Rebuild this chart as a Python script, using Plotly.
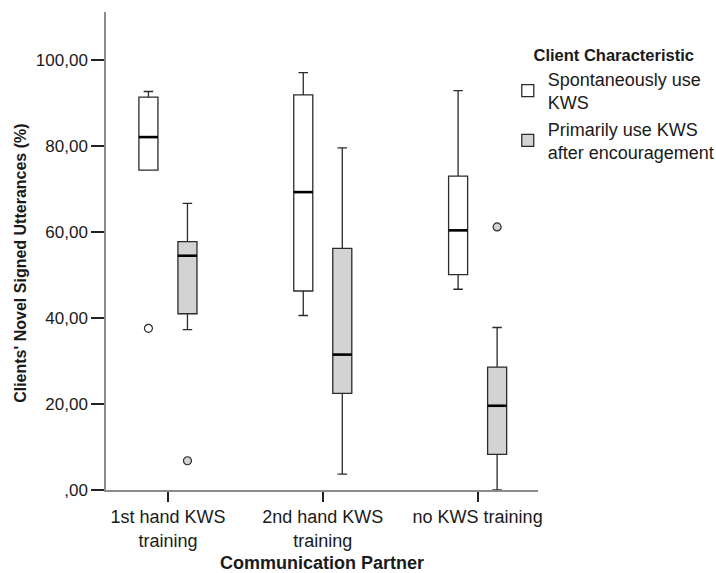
import plotly.graph_objects as go

categories = ["1st hand KWS<br>training", "2nd hand KWS<br>training", "no KWS training"]
series_names = ["Spontaneously use<br>KWS", "Primarily use KWS<br>after encouragement"]

spont_q1 = [74.4, 46.3, 50.1]
spont_median = [82.1, 69.3, 60.4]
spont_q3 = [91.4, 91.9, 73.0]
spont_lower = [74.4, 40.6, 46.7]
spont_upper = [92.7, 97.1, 92.9]
spont_out_cat = [0]
spont_out_val = [37.6]

enc_q1 = [41.0, 22.5, 8.3]
enc_median = [54.5, 31.5, 19.6]
enc_q3 = [57.8, 56.2, 28.6]
enc_lower = [37.3, 3.7, 0.0]
enc_upper = [66.7, 79.6, 37.8]
enc_out_cat = [0, 2]
enc_out_val = [6.8, 61.2]

y_tickvals = [0, 20, 40, 60, 80, 100]
y_ticktext = [",00", "20,00", "40,00", "60,00", "80,00", "100,00"]

FONT = "Arial, Liberation Sans, sans-serif"
OFFSET = 0.126
BOXW = 0.123
fills = ["#ffffff", "#d3d3d3"]
edge = "#2b2b2b"

fig = go.Figure()

series = [
    (spont_q1, spont_median, spont_q3, spont_lower, spont_upper, spont_out_cat, spont_out_val, -OFFSET),
    (enc_q1, enc_median, enc_q3, enc_lower, enc_upper, enc_out_cat, enc_out_val, OFFSET),
]

for k, (q1, med, q3, lo, hi, oc, ov, off) in enumerate(series):
    xs = [i + off for i in range(len(categories))]
    fig.add_trace(go.Box(
        x=xs, q1=q1, median=med, q3=q3, lowerfence=lo, upperfence=hi,
        name=series_names[k], width=BOXW, whiskerwidth=0.5,
        fillcolor=fills[k], line=dict(color=edge, width=1.3),
        boxpoints=False, showlegend=True,
    ))
    # thick median lines
    mx, my = [], []
    for x0, m in zip(xs, med):
        mx += [x0 - BOXW / 2, x0 + BOXW / 2, None]
        my += [m, m, None]
    fig.add_trace(go.Scatter(x=mx, y=my, mode="lines",
                             line=dict(color="#000000", width=2.6),
                             showlegend=False, hoverinfo="skip"))
    # outliers
    fig.add_trace(go.Scatter(
        x=[c + off for c in oc], y=ov, mode="markers",
        marker=dict(symbol="circle", size=8, color=fills[k],
                    line=dict(color=edge, width=1.2)),
        showlegend=False,
    ))

fig.update_layout(
    width=716, height=573,
    margin=dict(l=106, r=178, t=12, b=83, autoexpand=False),
    paper_bgcolor="white", plot_bgcolor="white",
    font=dict(family=FONT, size=17, color="#1a1a1a"),
    boxmode="overlay",
    showlegend=True,
    legend=dict(
        title=dict(text="<b>Client Characteristic</b>", side="top center",
                   font=dict(size=16.5, family=FONT)),
        x=0.93, xanchor="left", y=0.943, yanchor="top",
        font=dict(size=18, family=FONT),
        bgcolor="rgba(0,0,0,0)",
        tracegroupgap=0,
    ),
    xaxis=dict(
        range=[-0.4, 2.39], tickvals=[0, 1, 2], ticktext=categories,
        showgrid=False, zeroline=False,
        showline=True, linecolor="#8c8c8c", linewidth=1.5,
        ticks="outside", ticklen=10, tickcolor="#222222", tickwidth=1.5,
        tickfont=dict(size=18, family=FONT),
        title=dict(text="<b>Communication Partner</b>", font=dict(size=18, family=FONT), standoff=8),
    ),
    yaxis=dict(
        range=[0, 111.2], tickvals=y_tickvals, ticktext=y_ticktext,
        showgrid=False, zeroline=False,
        showline=True, linecolor="#8c8c8c", linewidth=1.5,
        ticks="outside", ticklen=13, tickcolor="#222222", tickwidth=1.5,
        tickfont=dict(size=17, family=FONT),
    ),
    annotations=[dict(
        text="<b>Clients' Novel Signed Utterances (%)</b>",
        xref="paper", yref="paper", x=-0.197, y=0.475,
        xanchor="center", yanchor="middle", textangle=-90,
        showarrow=False, font=dict(size=16, family=FONT, color="#1a1a1a"),
    )],
)

fig.write_html(
    "out.html",
    config={"displayModeBar": False},
    post_script="document.body.style.margin='0';document.body.style.overflow='hidden';",
)
